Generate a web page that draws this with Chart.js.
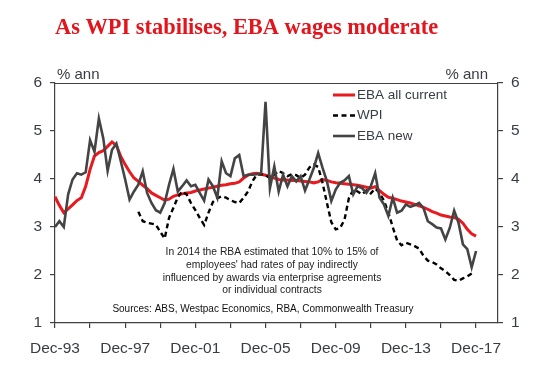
<!DOCTYPE html>
<html>
<head>
<meta charset="utf-8">
<script src="https://cdn.jsdelivr.net/npm/chart.js@4.4.1/dist/chart.umd.min.js"></script>
<style>
  html, body { margin: 0; padding: 0; background: #ffffff; }
  #wrap { position: relative; width: 549px; height: 369px; }
</style>
</head>
<body>
<div id="wrap"><canvas id="c" width="549" height="369"></canvas></div>
<script>
// ---- Data (quarterly, Dec-93 onward) ----
const titleText = "As WPI stabilises, EBA wages moderate";
const unitLabel = "% ann";
const seriesNames = ["EBA all current", "WPI", "EBA new"];
const noteLines = [
  "In 2014 the RBA estimated that 10% to 15% of",
  "employees' had rates of pay indirectly",
  "influenced by awards via enterprise agreements",
  "or individual contracts"
];
const sourceText = "Sources: ABS, Westpac Economics, RBA, Commonwealth Treasury";

// Category labels: quarters from Dec-93 to Mar-19
const quarterNames = ["Mar", "Jun", "Sep", "Dec"];
const categories = [];
for (let i = 0; i < 102; i++) {
  const m = (3 + i) % 4;
  const yr = 1993 + Math.floor((3 + i) / 4);
  categories.push(quarterNames[m] + "-" + String(yr % 100).padStart(2, "0"));
}
const yTicks = [1, 2, 3, 4, 5, 6];

const ebaAllCurrent = [
  3.63, 3.45, 3.30, 3.38, 3.46, 3.55, 3.61, 3.85, 4.20, 4.48,
  4.55, 4.59, 4.68, 4.77, 4.70, 4.47, 4.30, 4.15, 4.02, 3.95,
  3.87, 3.80, 3.71, 3.66, 3.61, 3.56, 3.58, 3.64, 3.67, 3.69,
  3.71, 3.72, 3.75, 3.77, 3.79, 3.81, 3.83, 3.85, 3.87, 3.88,
  3.90, 3.91, 3.94, 4.02, 4.08, 4.11, 4.12, 4.10, 4.08, 4.06,
  4.02, 3.99, 3.98, 3.98, 3.97, 3.97, 3.96, 3.95, 3.94, 3.92,
  3.94, 3.99, 3.97, 3.94, 3.92, 3.91, 3.90, 3.89, 3.88, 3.87,
  3.85, 3.83, 3.81, 3.84, 3.76, 3.68, 3.62, 3.60, 3.57, 3.54,
  3.52, 3.50, 3.47, 3.44, 3.41, 3.37, 3.32, 3.29, 3.25, 3.23,
  3.21, 3.20, 3.16, 3.08, 2.95, 2.86, 2.81
];

const wpi = [
  null, null, null, null, null, null, null, null, null, null,
  null, null, null, null, null, null, null, null, null, 3.32,
  3.12, 3.09, 3.07, 3.05, 2.90, 2.76, 3.19, 3.40, 3.62, 3.74,
  3.68, 3.50, 3.35, 3.19, 3.04, 3.30, 3.52, 3.60, 3.64, 3.61,
  3.56, 3.52, 3.50, 3.61, 3.74, 3.95, 4.09, 4.10, 4.08, 4.02,
  4.09, 4.17, 4.12, 4.06, 4.10, 4.08, 4.02, 4.09, 4.24, 4.30,
  4.25, 3.92, 3.50, 3.10, 2.95, 2.98, 3.15, 3.60, 3.78, 3.74,
  3.68, 3.76, 3.70, 3.80, 3.71, 3.55, 3.30, 3.00, 2.72, 2.62,
  2.67, 2.64, 2.60, 2.55, 2.40, 2.30, 2.27, 2.22, 2.14, 2.08,
  2.00, 1.90, 1.88, 1.93, 1.97, 2.03
];

const ebaNew = [
  3.00, 3.12, 3.00, 3.68, 3.99, 4.12, 4.09, 4.14, 4.81, 4.57,
  5.26, 4.85, 4.17, 4.61, 4.74, 4.37, 3.99, 3.57, 3.74, 3.88,
  4.16, 3.71, 3.50, 3.35, 3.30, 3.50, 3.88, 4.21, 3.74, 3.85,
  3.97, 3.85, 3.88, 3.71, 3.55, 3.99, 3.85, 3.61, 4.37, 4.12,
  4.06, 4.43, 4.50, 4.06, 4.09, 4.09, 4.10, 4.12, 5.61, 3.81,
  4.26, 3.74, 4.09, 3.85, 4.06, 3.95, 4.06, 3.76, 3.99, 4.23,
  4.54, 4.23, 3.95, 3.54, 3.78, 3.92, 3.97, 4.06, 3.68, 3.85,
  3.81, 3.71, 3.85, 4.12, 3.61, 3.47, 3.23, 3.61, 3.30, 3.34,
  3.47, 3.42, 3.45, 3.50, 3.40, 3.12, 3.06, 2.99, 2.97, 2.74,
  2.98, 3.34, 3.09, 2.64, 2.54, 2.16, 2.50
];

// ---- Styling ----
const RED = "#e8191f";
const GREY = "#444444";
const AXIS = "#404040";
const TEXT = "#383c44";
const SANS = "'Liberation Sans', Arial, sans-serif";
const SERIF = "'Liberation Serif', 'Times New Roman', serif";

const decorPlugin = {
  id: "decor",
  afterDraw(chart) {
    const ctx = chart.ctx;
    const a = chart.chartArea;
    ctx.save();
    // top frame line
    ctx.strokeStyle = AXIS;
    ctx.lineWidth = 1.2;
    ctx.beginPath();
    ctx.moveTo(a.left, Math.round(a.top) + 0.5);
    ctx.lineTo(a.right, Math.round(a.top) + 0.5);
    ctx.stroke();

    // title
    ctx.fillStyle = "#e3141b";
    ctx.font = "bold 22.4px " + SERIF;
    ctx.textAlign = "left";
    ctx.textBaseline = "alphabetic";
    ctx.fillText(titleText, 55, 34);

    // unit labels
    ctx.fillStyle = TEXT;
    ctx.font = "15px " + SANS;
    ctx.textAlign = "left";
    ctx.fillText(unitLabel, 57, 79);
    ctx.textAlign = "right";
    ctx.fillText(unitLabel, 488, 79);

    // legend
    const ds = chart.data.datasets;
    const legendOrder = [0, 1, 2];
    ctx.font = "13.5px " + SANS;
    ctx.textAlign = "left";
    ctx.textBaseline = "middle";
    legendOrder.forEach((di, k) => {
      const d = ds[di];
      const y = 95 + k * 20.5;
      ctx.strokeStyle = d.borderColor;
      ctx.lineWidth = d.borderWidth;
      ctx.setLineDash(d.borderDash || []);
      ctx.beginPath();
      ctx.moveTo(333, y);
      ctx.lineTo(355, y);
      ctx.stroke();
      ctx.setLineDash([]);
      ctx.fillStyle = TEXT;
      ctx.fillText(d.label, 357, y);
    });

    // note text
    ctx.fillStyle = "#222222";
    ctx.font = "10.3px " + SANS;
    ctx.textAlign = "center";
    noteLines.forEach((t, i) => ctx.fillText(t, 272, 252.5 + i * 12.7));
    ctx.font = "10px " + SANS;
    ctx.fillStyle = "#111111";
    ctx.fillText(sourceText, 263, 309.5);
    ctx.restore();
  }
};

new Chart(document.getElementById("c"), {
  type: "line",
  data: {
    labels: categories,
    datasets: [
      { label: seriesNames[0], data: ebaAllCurrent, borderColor: RED, borderWidth: 3, order: 2 },
      { label: seriesNames[1], data: wpi, borderColor: "#000000", borderWidth: 2.4, borderDash: [5, 3.5], order: 1 },
      { label: seriesNames[2], data: ebaNew, borderColor: GREY, borderWidth: 2.6, order: 0 }
    ]
  },
  options: {
    responsive: false,
    animation: false,
    events: [],
    layout: { padding: { top: 83, left: 0, right: 0, bottom: 0 } },
    elements: { point: { radius: 0 }, line: { tension: 0, borderCapStyle: "butt", borderJoinStyle: "miter" } },
    plugins: { legend: { display: false }, tooltip: { enabled: false }, title: { display: false } },
    scales: {
      x: {
        type: "category",
        offset: false,
        grid: { display: true, drawOnChartArea: false, drawTicks: true, tickLength: 5, color: AXIS, lineWidth: 1.2 },
        border: { display: true, color: AXIS, width: 1.2 },
        ticks: {
          autoSkip: false, maxRotation: 0, minRotation: 0, padding: 11,
          color: TEXT, font: { family: SANS, size: 15.5 },
          callback: function (val, idx) {
            if (idx % 16 === 0) return this.getLabelForValue(val);
            if (idx % 8 === 0) return "";
            return null;
          }
        },
        afterFit: s => { s.height = 46; }
      },
      y: {
        position: "left", min: 1, max: 6,
        grid: { display: true, drawOnChartArea: false, drawTicks: true, tickLength: 5, color: AXIS, lineWidth: 1.2 },
        border: { display: true, color: AXIS, width: 1.2 },
        ticks: { stepSize: 1, padding: 8, color: TEXT, font: { family: SANS, size: 15.5 },
                 callback: v => yTicks.includes(v) ? String(v) : null },
        afterFit: s => { s.width = 55; }
      },
      y2: {
        position: "right", min: 1, max: 6,
        grid: { display: true, drawOnChartArea: false, drawTicks: true, tickLength: 5, color: AXIS, lineWidth: 1.2 },
        border: { display: true, color: AXIS, width: 1.2 },
        ticks: { stepSize: 1, padding: 8, color: TEXT, font: { family: SANS, size: 15.5 },
                 callback: v => yTicks.includes(v) ? String(v) : null },
        afterFit: s => { s.width = 51; }
      }
    }
  },
  plugins: [decorPlugin]
});
</script>
</body>
</html>
